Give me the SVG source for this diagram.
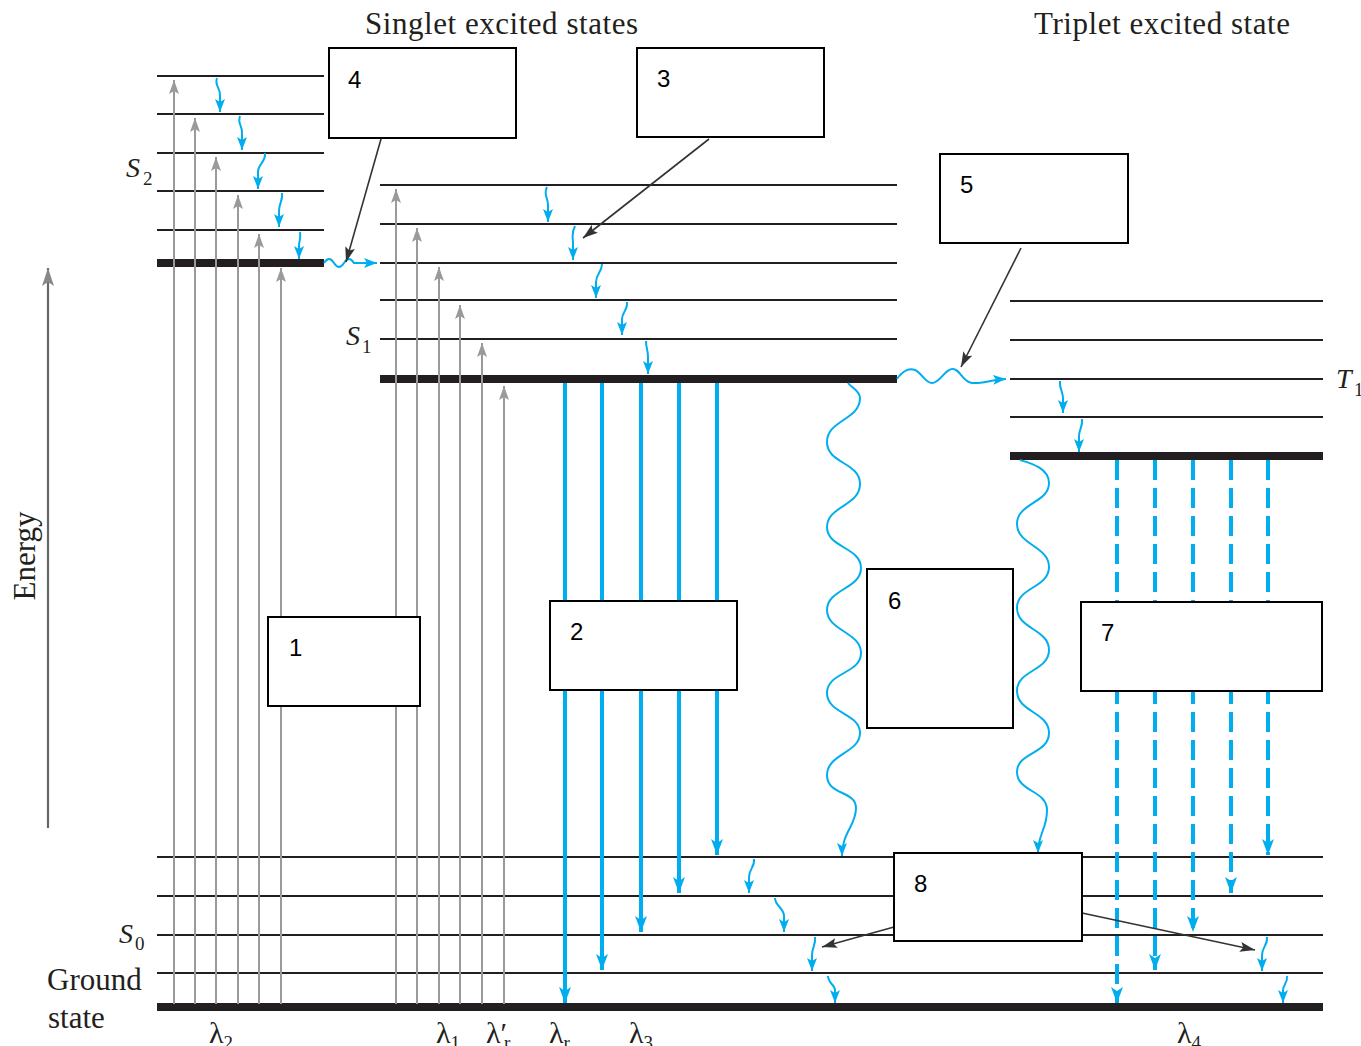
<svg xmlns="http://www.w3.org/2000/svg" width="1361" height="1046" viewBox="0 0 1361 1046">
<style>
.lv{stroke:#231f20;stroke-width:2.2;fill:none}
.lvt{stroke:#231f20;stroke-width:8;fill:none}
.ex{stroke:#9a9a9a;stroke-width:2;fill:none;marker-end:url(#ga)}
.sm{stroke:#00aeef;stroke-width:2;fill:none;marker-end:url(#bs)}
.fl{stroke:#00aeef;stroke-width:4;fill:none;marker-end:url(#bb)}
.ph{stroke:#00aeef;stroke-width:4;stroke-dasharray:20 8;fill:none;marker-end:url(#bb)}
.wv{stroke:#00aeef;stroke-width:2;fill:none;marker-end:url(#bs)}
.an{stroke:#333;stroke-width:1.6;fill:none;marker-end:url(#da)}
.box{fill:#fff;stroke:#000;stroke-width:2}
.num{font-family:"Liberation Sans",Arial,sans-serif;font-size:24px;fill:#000}
.ser{font-family:"Liberation Serif","Times New Roman",serif;font-size:31px;fill:#231f20}
.it{font-family:"Liberation Serif","Times New Roman",serif;font-style:italic;font-size:28px;fill:#231f20}
.sub{font-family:"Liberation Serif","Times New Roman",serif;font-size:19px;fill:#231f20}
.lam{font-family:"Liberation Serif","Times New Roman",serif;font-size:30px;fill:#231f20}
</style>
<defs>
<marker id="ga" markerUnits="userSpaceOnUse" markerWidth="14" markerHeight="10" viewBox="0 0 14 10" refX="14" refY="5" orient="auto"><path d="M0,0 L14,5 L0,10 L3,5 z" fill="#9a9a9a"/></marker>
<marker id="gk" markerUnits="userSpaceOnUse" markerWidth="18" markerHeight="12" viewBox="0 0 18 12" refX="18" refY="6" orient="auto"><path d="M0,0 L18,6 L0,12 L4,6 z" fill="#888"/></marker>
<marker id="bs" markerUnits="userSpaceOnUse" markerWidth="13" markerHeight="10" viewBox="0 0 13 10" refX="13" refY="5" orient="auto"><path d="M0,0 L13,5 L0,10 L3,5 z" fill="#00aeef"/></marker>
<marker id="bb" markerUnits="userSpaceOnUse" markerWidth="16" markerHeight="12" viewBox="0 0 16 12" refX="16" refY="6" orient="auto"><path d="M0,0 L16,6 L0,12 L4,6 z" fill="#00aeef"/></marker>
<marker id="da" markerUnits="userSpaceOnUse" markerWidth="15" markerHeight="10" viewBox="0 0 15 10" refX="15" refY="5" orient="auto"><path d="M0,0 L15,5 L0,10 L3,5 z" fill="#333"/></marker>
</defs>
<rect width="1361" height="1046" fill="#fff"/>

<g id="levels">
<g id="S2-levels">
<line class="lv" x1="157" y1="76" x2="324" y2="76"/>
<line class="lv" x1="157" y1="114" x2="324" y2="114"/>
<line class="lv" x1="157" y1="153" x2="324" y2="153"/>
<line class="lv" x1="157" y1="191" x2="324" y2="191"/>
<line class="lv" x1="157" y1="230" x2="324" y2="230"/>
<line class="lvt" x1="157" y1="263" x2="324" y2="263"/>
</g>
<g id="S1-levels">
<line class="lv" x1="380" y1="185" x2="897" y2="185"/>
<line class="lv" x1="380" y1="224" x2="897" y2="224"/>
<line class="lv" x1="380" y1="263" x2="897" y2="263"/>
<line class="lv" x1="380" y1="300" x2="897" y2="300"/>
<line class="lv" x1="380" y1="339" x2="897" y2="339"/>
<line class="lvt" x1="380" y1="379" x2="897" y2="379"/>
</g>
<g id="T1-levels">
<line class="lv" x1="1010" y1="301" x2="1323" y2="301"/>
<line class="lv" x1="1010" y1="340" x2="1323" y2="340"/>
<line class="lv" x1="1010" y1="379" x2="1323" y2="379"/>
<line class="lv" x1="1010" y1="417" x2="1323" y2="417"/>
<line class="lvt" x1="1010" y1="456" x2="1323" y2="456"/>
</g>
<g id="S0-levels">
<line class="lv" x1="157" y1="857" x2="1323" y2="857"/>
<line class="lv" x1="157" y1="896" x2="1323" y2="896"/>
<line class="lv" x1="157" y1="935" x2="1323" y2="935"/>
<line class="lv" x1="157" y1="973" x2="1323" y2="973"/>
<line class="lvt" x1="157" y1="1007" x2="1323" y2="1007"/>
</g>
</g>

<g id="labels">
<text class="ser" x="365" y="34" textLength="273">Singlet excited states</text>
<text class="ser" x="1034" y="34" textLength="256">Triplet excited state</text>
<text class="it" x="126" y="177">S</text><text class="sub" x="143" y="185">2</text>
<text class="it" x="346" y="345">S</text><text class="sub" x="362" y="353">1</text>
<text class="it" x="1336" y="388">T</text><text class="sub" x="1354" y="396">1</text>
<text class="it" x="119" y="943">S</text><text class="sub" x="135" y="950">0</text>
<text class="ser" x="47" y="990">Ground</text>
<text class="ser" x="48" y="1028">state</text>
<text class="ser" transform="translate(35,556) rotate(-90)" text-anchor="middle">Energy</text>
<text class="lam" x="209" y="1043">λ<tspan class="sub" dy="6">2</tspan></text>
<text class="lam" x="436" y="1043">λ<tspan class="sub" dy="6">1</tspan></text>
<text class="lam" x="486" y="1043">λ′<tspan class="sub" dx="-3" dy="6">r</tspan></text>
<text class="lam" x="549" y="1043">λ<tspan class="sub" dy="6">r</tspan></text>
<text class="lam" x="629" y="1043">λ<tspan class="sub" dy="6">3</tspan></text>
<text class="lam" x="1177" y="1043">λ<tspan class="sub" dy="6">4</tspan></text>
</g>

<g id="connectors">
<line x1="48" y1="828" x2="48" y2="268" stroke="#666" stroke-width="2.2" marker-end="url(#gk)"/>
<g id="absorption">
<line class="ex" x1="174" y1="1004" x2="174" y2="80"/>
<line class="ex" x1="195" y1="1004" x2="195" y2="118"/>
<line class="ex" x1="216" y1="1004" x2="216" y2="157"/>
<line class="ex" x1="238" y1="1004" x2="238" y2="195"/>
<line class="ex" x1="259" y1="1004" x2="259" y2="234"/>
<line class="ex" x1="281" y1="1004" x2="281" y2="268"/>
<line class="ex" x1="396" y1="1004" x2="396" y2="189"/>
<line class="ex" x1="417" y1="1004" x2="417" y2="228"/>
<line class="ex" x1="439" y1="1004" x2="439" y2="267"/>
<line class="ex" x1="460" y1="1004" x2="460" y2="305"/>
<line class="ex" x1="482" y1="1004" x2="482" y2="343"/>
<line class="ex" x1="504" y1="1004" x2="504" y2="386"/>
</g>
<g id="relaxation">
<path class="sm" d="M217,78 C214,86 221,88 220,96 L220,112"/>
<path class="sm" d="M240,116 C237,124 243,126 242,134 L242,150"/>
<path class="sm" d="M265,153 C266,162 258,164 258,172 L258,189"/>
<path class="sm" d="M282,193 C283,201 279,203 279,211 L279,227"/>
<path class="sm" d="M300,232 C301,239 299,241 299,246 L299,259"/>
<path class="sm" d="M547,187 C543,195 548,197 548,205 L548,222"/>
<path class="sm" d="M575,226 C571,234 573,236 573,244 L573,260"/>
<path class="sm" d="M602,264 C602,272 596,274 596,282 L596,298"/>
<path class="sm" d="M627,302 C628,310 622,312 622,319 L622,335"/>
<path class="sm" d="M646,341 C646,348 648,350 648,357 L648,374"/>
<path class="sm" d="M1060,381 C1059,389 1063,391 1063,398 L1063,413"/>
<path class="sm" d="M1082,419 C1083,427 1079,429 1079,436 L1079,452"/>
<path class="sm" d="M754,859 C755,867 749,869 749,877 L749,893"/>
<path class="sm" d="M775,898 C775,906 784,908 784,916 L784,932"/>
<path class="sm" d="M815,937 C816,945 812,947 812,955 L812,971"/>
<path class="sm" d="M828,976 C828,983 835,985 835,990 L835,1003"/>
<path class="sm" d="M1267,937 C1268,945 1262,947 1262,955 L1262,971"/>
<path class="sm" d="M1287,976 C1288,983 1283,985 1283,990 L1283,1003"/>
</g>
<g id="fluorescence">
<line class="fl" x1="565" y1="383" x2="565" y2="1003"/>
<line class="fl" x1="602" y1="383" x2="602" y2="970"/>
<line class="fl" x1="641" y1="383" x2="641" y2="932"/>
<line class="fl" x1="679" y1="383" x2="679" y2="893"/>
<line class="fl" x1="717" y1="383" x2="717" y2="855"/>
</g>
<g id="phosphorescence">
<line class="ph" x1="1117" y1="460" x2="1117" y2="1003"/>
<line class="ph" x1="1155" y1="460" x2="1155" y2="970" stroke-width="5"/>
<line class="ph" x1="1193" y1="460" x2="1193" y2="932"/>
<line class="ph" x1="1231" y1="460" x2="1231" y2="893" stroke-width="5"/>
<line class="ph" x1="1268" y1="460" x2="1268" y2="855"/>
</g>
<g id="wavy">
<path class="wv" d="M324,263 Q329,255 334,263 T344,263 T354,263 L377,263"/>
<path class="wv" d="M897,379 C903,370 910,368 915,370 C922,373 925,383 932,383 C940,383 944,370 952,369 C960,368 962,382 972,383 C982,384 990,380 1006,379"/>
<path class="wv" d="M848,383 C852,388 860,391 860,398 C860,420 827,420 827,442 S860,462 860,484 S827,506 827,527 S861,547 861,568 S827,589 827,610 S861,632 861,653 S827,672 827,693 S860,713 860,733 S827,754 827,775 S856,790 856,808 S842,832 842,856"/>
<path class="wv" d="M1020,460 C1030,463 1049,468 1049,483 C1049,503 1017,503 1017,524 S1049,546 1049,567 S1017,587 1017,608 S1049,629 1049,650 S1017,670 1017,691 S1049,712 1049,733 S1017,752 1017,772 S1047,790 1047,810 S1038,833 1038,853"/>
</g>
<g id="callouts">
<line class="an" x1="381" y1="139" x2="346" y2="262"/>
<line class="an" x1="709" y1="139" x2="583" y2="238"/>
<line class="an" x1="1021" y1="248" x2="961" y2="367"/>
<line class="an" x1="894" y1="927" x2="822" y2="947"/>
<line class="an" x1="1082" y1="913" x2="1255" y2="950"/>
</g>
</g>

<g id="box1"><rect class="box" x="268" y="617" width="152" height="89"/><text class="num" x="289" y="656">1</text></g>
<g id="box2"><rect class="box" x="550" y="601" width="187" height="89"/><text class="num" x="570" y="640">2</text></g>
<g id="box3"><rect class="box" x="637" y="48" width="187" height="89"/><text class="num" x="657" y="87">3</text></g>
<g id="box4"><rect class="box" x="329" y="48" width="187" height="90"/><text class="num" x="348" y="88">4</text></g>
<g id="box5"><rect class="box" x="940" y="154" width="188" height="89"/><text class="num" x="960" y="193">5</text></g>
<g id="box6"><rect class="box" x="867" y="569" width="146" height="159"/><text class="num" x="888" y="609">6</text></g>
<g id="box7"><rect class="box" x="1081" y="602" width="241" height="89"/><text class="num" x="1101" y="641">7</text></g>
<g id="box8"><rect class="box" x="894" y="853" width="188" height="88"/><text class="num" x="914" y="892">8</text></g>
</svg>
